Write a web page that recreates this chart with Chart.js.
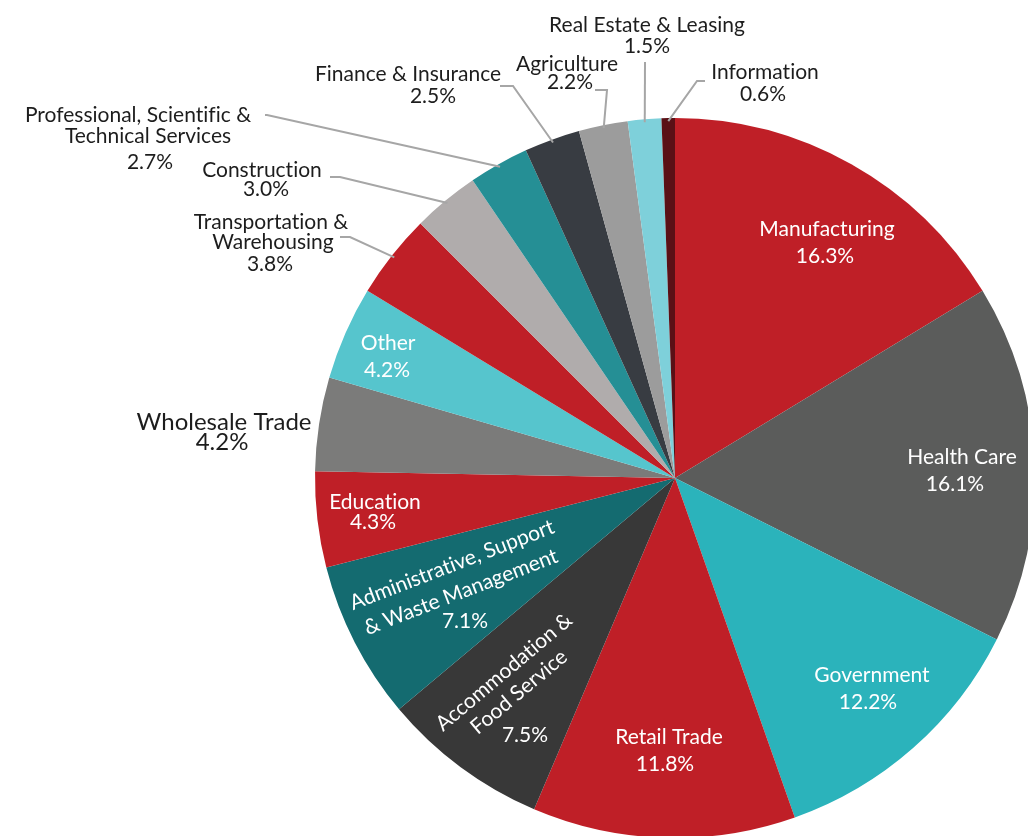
<!DOCTYPE html>
<html>
<head>
<meta charset="utf-8">
<script src="https://cdn.jsdelivr.net/npm/chart.js@4"></script>
<style>
  html, body { margin: 0; padding: 0; background: #fff; overflow: hidden; width: 1028px; height: 836px; }
  #wrap { width: 1100px; height: 840px; }
</style>
</head>
<body>
<div id="wrap"><canvas id="myChart" width="1100" height="840"></canvas></div>
<script>
// industry shares, clockwise from 12 o'clock
const categories = [
    'Manufacturing', 'Health Care', 'Government', 'Retail Trade',
    'Accommodation & Food Service', 'Administrative, Support & Waste Management',
    'Education', 'Wholesale Trade', 'Other', 'Transportation & Warehousing',
    'Construction', 'Professional, Scientific & Technical Services',
    'Finance & Insurance', 'Agriculture', 'Real Estate & Leasing', 'Information'
];
const shares = [16.3, 16.1, 12.2, 11.8, 7.5, 7.1, 4.3, 4.2, 4.2, 3.8, 3.0, 2.7, 2.5, 2.2, 1.5, 0.6];
const sliceColors = [
    '#bf1f27', '#5b5c5b', '#2bb3bb', '#bf1f27', '#383838', '#146b70',
    '#bf1f27', '#7b7b7a', '#56c5cd', '#bf1f27', '#b0acac', '#258f95',
    '#383c42', '#9c9c9c', '#7ed0da', '#5a1016'
];
// how each name is broken into lines
const nameLines = [
    ['Manufacturing'], ['Health Care'], ['Government'], ['Retail Trade'],
    ['Accommodation &', 'Food Service'], ['Administrative, Support', '& Waste Management'],
    ['Education'], ['Wholesale Trade'], ['Other'], ['Transportation &', 'Warehousing'],
    ['Construction'], ['Professional, Scientific &', 'Technical Services'],
    ['Finance & Insurance'], ['Agriculture'], ['Real Estate & Leasing'], ['Information']
];

// label placement, offsets in px from the pie centre (radius 360)
// t: one [dx, dy, rotationDeg] per text line (names then the %)
// lead: leader line bend points after the slice edge
const place = [
    { inside: true, t: [[152, -249], [150, -222]] },
    { inside: true, t: [[287, -21], [280, 6]] },
    { inside: true, t: [[197, 197], [193, 224]] },
    { inside: true, t: [[-6, 259], [-10, 286]] },
    { inside: true, t: [[-171, 194, -40], [-156, 214, -40], [-150, 257]] },
    { inside: true, t: [[-223, 87, -21], [-214, 114, -21], [-210, 143]] },
    { inside: true, t: [[-300, 24], [-302, 44]] },
    { inside: false, big: true, t: [[-451, -56], [-453, -36]] },
    { inside: true, t: [[-287, -135], [-288, -108]] },
    { inside: false, t: [[-404, -256], [-402, -236], [-405, -214]], lead: [[-325, -241], [-335, -241]] },
    { inside: false, t: [[-413, -308], [-409, -289]], lead: [[-335, -301], [-345, -301]] },
    { inside: false, t: [[-537, -363], [-527, -342], [-525, -316]], lead: [[-408, -363], [-410, -363]] },
    { inside: false, t: [[-267, -404], [-242, -382]], lead: [[-162, -392], [-175, -392]] },
    { inside: false, t: [[-108, -414], [-105, -396]], lead: [[-68, -388], [-80, -388]] },
    { inside: false, t: [[-28, -453], [-28, -432]], lead: [[-30, -416]] },
    { inside: false, t: [[90, -406], [88, -384]], lead: [[22, -397], [30, -397]] }
];

const FONT = 'Lato, "Open Sans", sans-serif';

const sliceLabels = {
    id: 'sliceLabels',
    afterDatasetsDraw(chart) {
        const ctx = chart.ctx;
        const arcs = chart.getDatasetMeta(0).data;
        ctx.save();
        ctx.textRendering = 'optimizeSpeed'; // no ti / fi ligatures
        arcs.forEach((arc, i) => {
            const p = place[i];
            const cx = arc.x, cy = arc.y, r = arc.outerRadius;
            const k = r / 360;
            if (p.lead) {
                const mid = (arc.startAngle + arc.endAngle) / 2;
                ctx.beginPath();
                ctx.moveTo(cx + Math.cos(mid) * (r - 3), cy + Math.sin(mid) * (r - 3));
                p.lead.forEach(pt => ctx.lineTo(cx + pt[0] * k, cy + pt[1] * k));
                ctx.strokeStyle = '#a6a6a6';
                ctx.lineWidth = 2;
                ctx.stroke();
            }
            const lines = nameLines[i].concat([shares[i].toFixed(1) + '%']);
            ctx.fillStyle = p.inside ? '#ffffff' : '#1d1d1d';
            ctx.font = (p.big ? '24px ' : '21px ') + FONT;
            ctx.textAlign = 'center';
            ctx.textBaseline = 'middle';
            lines.forEach((txt, j) => {
                const pos = p.t[j];
                ctx.save();
                ctx.translate(cx + pos[0] * k, cy + pos[1] * k);
                if (pos[2]) ctx.rotate(pos[2] * Math.PI / 180);
                ctx.fillText(txt, 0, 0);
                ctx.restore();
            });
        });
        ctx.restore();
    }
};

const data = {
    labels: categories,
    datasets: [{
        data: shares,
        backgroundColor: sliceColors,
        borderWidth: 0
    }]
};

const config = {
    type: 'pie',
    data: data,
    options: {
        responsive: false,
        animation: false,
        events: [],
        layout: { padding: { left: 315, top: 118, right: 65, bottom: 2 } },
        plugins: {
            legend: { display: false },
            tooltip: { enabled: false }
        }
    },
    plugins: [sliceLabels]
};

const myChart = new Chart(document.getElementById('myChart'), config);
</script>
</body>
</html>
